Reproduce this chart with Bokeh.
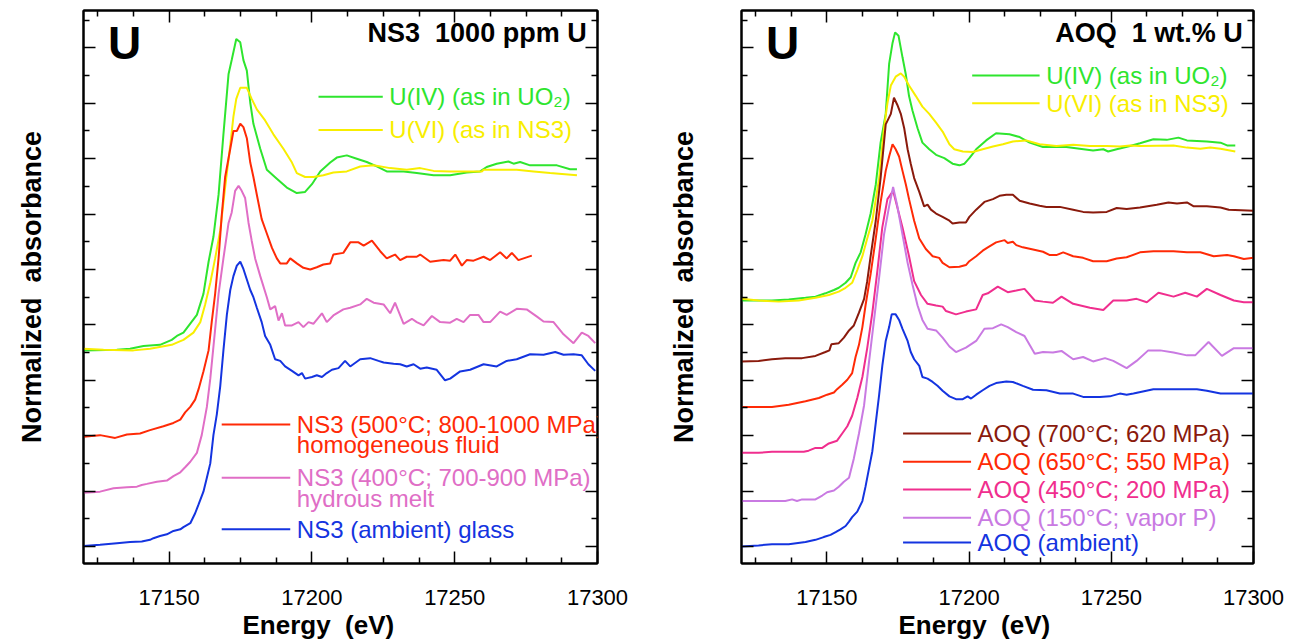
from bokeh.plotting import figure
from bokeh.models import Range1d, FixedTicker, LinearAxis, Label, Title
from bokeh.layouts import row
from bokeh.embed import file_html
from bokeh.resources import INLINE

FONT = "Liberation Sans"
NB = "\u00a0"

# ---------------- Data: left panel (NS3, 1000 ppm U) ----------------
ns3_uiv_e = [17120, 17131.7, 17136.3, 17141, 17146.8, 17150.9, 17152.7, 17155, 17159.7, 17162, 17163.8, 17165.5,
             17167.3, 17169, 17170.8, 17171.9, 17173.5, 17174.9, 17176, 17177.2, 17178.4, 17179.5, 17181.9, 17184.2,
             17187.7, 17191.2, 17194.7, 17197.6, 17200, 17202.9, 17206.4, 17208.7, 17212.2, 17215.7, 17219.2,
             17222.7, 17226.2, 17232.1, 17236.7, 17242.6, 17248.4, 17254.2, 17258.9, 17261.2, 17264.7, 17268.8,
             17270.6, 17272.9, 17276.4, 17285.8, 17290.4, 17292.8]
ns3_uiv_y = [3.54, 3.55, 3.57, 3.62, 3.64, 3.73, 3.80, 3.86, 4.18, 4.56, 5.14, 5.59, 6.35, 7.44, 8.53, 8.78, 9.16,
             9.10, 8.78, 8.59, 8.01, 7.63, 7.18, 6.80, 6.64, 6.48, 6.38, 6.40, 6.54, 6.77, 6.93, 7.02, 7.06, 7.00,
             6.94, 6.86, 6.77, 6.77, 6.74, 6.70, 6.70, 6.75, 6.77, 6.85, 6.91, 6.95, 6.91, 6.94, 6.88, 6.88, 6.81, 6.81]

ns3_uvi_e = [17120, 17127, 17137.5, 17143.3, 17150.9, 17152.7, 17155, 17158.5, 17160.9, 17162.6, 17164.4, 17166.1,
             17167.9, 17169.6, 17171.4, 17172.5, 17173.5, 17174.9, 17177.2, 17178.9, 17180.7, 17183.6, 17186.5,
             17190, 17193, 17194.7, 17197.6, 17200.5, 17204, 17207.5, 17212.2, 17216.9, 17221.6, 17227.4, 17233.2,
             17237.9, 17242.6, 17248.4, 17254.2, 17259.5, 17260.1, 17271.7, 17277.6, 17283.4, 17292.8]
ns3_uvi_y = [3.57, 3.55, 3.54, 3.57, 3.64, 3.68, 3.73, 3.86, 4.05, 4.37, 4.76, 5.20, 5.71, 6.48, 7.25, 7.76, 8.08,
             8.28, 8.28, 8.08, 7.89, 7.69, 7.44, 7.18, 6.93, 6.74, 6.67, 6.67, 6.70, 6.75, 6.77, 6.86, 6.88, 6.83,
             6.80, 6.83, 6.78, 6.77, 6.77, 6.77, 6.80, 6.80, 6.77, 6.74, 6.70]

ns3_500_e = [17120, 17125.8, 17131.1, 17135.2, 17139.8, 17143.3, 17148, 17151.5, 17153.9, 17155.6, 17157.4, 17159.1,
             17160.3, 17162, 17163.8, 17164.9, 17166.1, 17167.3, 17168.4, 17169.6, 17171.4, 17172.5, 17173.7,
             17174.9, 17176, 17177.2, 17178.4, 17179.5, 17180.7, 17182.4, 17184.2, 17186, 17187.7, 17188.9, 17191.2,
             17192.4, 17194.7, 17197, 17199.4, 17201.7, 17204, 17206.4, 17207.5, 17211, 17213.4, 17216.3, 17218.1,
             17221, 17223.9, 17226.2, 17229.1, 17230.9, 17233.2, 17236.7, 17237.9, 17241.4, 17246.1, 17248.4,
             17250.2, 17252.5, 17254.2, 17256.6, 17260.1, 17262.4, 17265.9, 17268.2, 17270, 17272.3, 17277]
ns3_500_y = [1.98, 2.01, 1.96, 2.02, 2.04, 2.10, 2.17, 2.23, 2.29, 2.42, 2.52, 2.65, 2.84, 3.16, 3.54, 4.05, 4.56,
             5.20, 5.97, 6.67, 7.18, 7.50, 7.50, 7.63, 7.57, 7.37, 6.93, 6.67, 6.35, 5.91, 5.65, 5.39, 5.20, 5.11,
             5.11, 5.20, 5.11, 5.03, 5.00, 5.04, 5.09, 5.11, 5.27, 5.30, 5.49, 5.49, 5.43, 5.52, 5.33, 5.20, 5.27,
             5.17, 5.23, 5.23, 5.27, 5.14, 5.17, 5.16, 5.27, 5.07, 5.17, 5.16, 5.23, 5.17, 5.31, 5.20, 5.30, 5.17, 5.25]

ns3_400_e = [17120, 17125.8, 17130.5, 17135.2, 17138.7, 17140.4, 17142.2, 17145.7, 17149.2, 17151.5, 17153.9,
             17155.6, 17157.4, 17159.7, 17161.4, 17163.2, 17164.4, 17166.1, 17167.3, 17169, 17170.8, 17171.9,
             17173.1, 17174.3, 17175.4, 17176.6, 17177.8, 17178.9, 17180.1, 17181.9, 17184.2, 17185.4, 17187.1,
             17188.3, 17189.5, 17190.6, 17193, 17195.3, 17197, 17198.8, 17200.5, 17203.5, 17205.2, 17207.5, 17211,
             17213.4, 17216.9, 17219.2, 17221.6, 17225.1, 17227.4, 17229.1, 17232.1, 17235, 17236.7, 17239.1, 17242,
             17244.9, 17248.4, 17250.7, 17253.1, 17255.4, 17258.3, 17260.1, 17262.4, 17265.9, 17268.2, 17271.7,
             17275.2, 17278.8, 17281.1, 17284.6, 17288.1, 17291.6, 17294.5, 17296.8, 17299.2]
ns3_400_y = [0.97, 0.99, 1.05, 1.07, 1.08, 1.11, 1.13, 1.17, 1.19, 1.27, 1.34, 1.43, 1.53, 1.69, 2.01, 2.52, 3.03,
             3.92, 4.56, 5.20, 5.84, 6.03, 6.42, 6.51, 6.42, 6.29, 5.84, 5.52, 5.20, 4.88, 4.50, 4.28, 4.34, 4.08,
             4.21, 3.99, 3.99, 4.05, 3.96, 4.05, 4.02, 4.21, 4.05, 4.17, 4.28, 4.31, 4.37, 4.47, 4.40, 4.37, 4.21,
             4.40, 4.02, 4.11, 4.05, 3.99, 4.16, 4.05, 4.04, 4.11, 4.05, 4.18, 4.18, 4.05, 4.05, 4.24, 4.18, 4.29,
             4.28, 4.15, 4.06, 4.05, 3.83, 3.67, 3.86, 3.80, 3.67]

ns3_amb_e = [17120, 17125.8, 17131.7, 17136.3, 17140.4, 17143.3, 17144.5, 17146.8, 17149.2, 17151.5, 17153.9,
             17155, 17157.4, 17159.1, 17160.3, 17162, 17163.2, 17164.4, 17165.5, 17166.7, 17167.9, 17169, 17170.2,
             17171.4, 17172.5, 17173.7, 17174.9, 17176, 17177.2, 17178.4, 17179.5, 17180.7, 17182.4, 17183.6,
             17185.4, 17187.1, 17188.9, 17190.6, 17193, 17195.3, 17196.5, 17197.6, 17200, 17201.7, 17203.5, 17205.2,
             17207, 17209.3, 17211.6, 17213.4, 17216.9, 17220.4, 17223.3, 17225.1, 17228.6, 17230.9, 17233.2,
             17235.6, 17237.9, 17240.2, 17243.7, 17246.6, 17248.4, 17251.9, 17255.4, 17260.1, 17264.7, 17268.2,
             17271.7, 17276.4, 17281.1, 17285.2, 17288.1, 17291.6, 17294.5, 17296.8, 17299.2]
ns3_amb_y = [0.01, 0.03, 0.06, 0.08, 0.09, 0.12, 0.15, 0.19, 0.22, 0.28, 0.31, 0.35, 0.42, 0.60, 0.76, 0.99, 1.24,
             1.50, 2.01, 2.39, 2.90, 3.54, 4.18, 4.63, 4.88, 5.07, 5.14, 5.01, 4.82, 4.63, 4.50, 4.31, 4.05, 3.80,
             3.64, 3.38, 3.35, 3.25, 3.17, 3.09, 3.13, 3.03, 3.06, 3.09, 3.06, 3.13, 3.19, 3.22, 3.35, 3.25, 3.38,
             3.40, 3.35, 3.32, 3.30, 3.29, 3.25, 3.29, 3.21, 3.23, 3.19, 3.00, 3.03, 3.16, 3.19, 3.29, 3.25, 3.35,
             3.38, 3.47, 3.46, 3.51, 3.46, 3.47, 3.45, 3.29, 3.17]

# ---------------- Data: right panel (AOQ, 1 wt.% U) ----------------
aoq_uiv_e = [17120, 17130.7, 17136.6, 17142.5, 17146, 17149.5, 17152.5, 17154.2, 17156.6, 17158.4, 17160.1, 17161.9,
             17163.6, 17165.4, 17167.2, 17168.9, 17170.7, 17171.9, 17173.1, 17174, 17175.2, 17176.6, 17177.8,
             17178.9, 17180.1, 17181.9, 17183.6, 17186, 17188.4, 17191.3, 17194.2, 17196.6, 17198.4, 17200.1,
             17202.5, 17206, 17209.5, 17214.2, 17217.8, 17221.3, 17226, 17230.7, 17234.2, 17238.9, 17243.6, 17247.2,
             17248.9, 17251.9, 17256.6, 17260.1, 17264.8, 17269.5, 17273.6, 17276.6, 17283.6, 17288.4, 17290.7,
             17293.6]
aoq_uiv_y = [4.44, 4.44, 4.46, 4.49, 4.51, 4.57, 4.63, 4.67, 4.76, 4.86, 5.12, 5.31, 5.63, 6.01, 6.53, 7.29, 7.81,
             8.71, 9.09, 9.28, 9.22, 8.83, 8.51, 8.13, 7.87, 7.55, 7.29, 7.17, 7.07, 7.01, 6.91, 6.88, 6.91, 7.01,
             7.17, 7.33, 7.46, 7.44, 7.39, 7.29, 7.21, 7.21, 7.21, 7.18, 7.15, 7.17, 7.13, 7.17, 7.23, 7.28, 7.35,
             7.34, 7.38, 7.33, 7.31, 7.29, 7.24, 7.24]

aoq_uvi_e = [17120, 17126, 17133.1, 17140.1, 17146, 17150.7, 17154.2, 17156.6, 17158.9, 17160.7, 17162.5, 17164.2,
             17166, 17168.4, 17170.1, 17171.3, 17172.5, 17174.2, 17176, 17177.2, 17178.9, 17181.3, 17183.6, 17186,
             17188.4, 17190.7, 17193.1, 17194.8, 17197.8, 17201.3, 17204.8, 17208.4, 17211.9, 17215.4, 17220.1,
             17224.8, 17230.7, 17236.6, 17242.5, 17248.4, 17253.1, 17256.6, 17260.1, 17271.9, 17276.6, 17281.3,
             17284.8, 17288.4, 17293.6]
aoq_uvi_y = [4.47, 4.44, 4.42, 4.44, 4.49, 4.54, 4.60, 4.67, 4.76, 4.99, 5.24, 5.56, 5.88, 6.65, 7.55, 8.00, 8.32,
             8.48, 8.54, 8.48, 8.32, 8.13, 7.94, 7.81, 7.65, 7.49, 7.26, 7.17, 7.13, 7.12, 7.17, 7.22, 7.26, 7.31,
             7.33, 7.26, 7.23, 7.25, 7.23, 7.23, 7.22, 7.24, 7.23, 7.24, 7.20, 7.18, 7.20, 7.18, 7.13]

aoq_700_e = [17120, 17126, 17130.7, 17135.4, 17141.3, 17146, 17149.5, 17150.9, 17151.6, 17154.2, 17156, 17157.8,
             17159.5, 17161.3, 17163.1, 17164.2, 17165.4, 17167.2, 17168.9, 17170.7, 17172.5, 17173.6, 17174.8,
             17176, 17177.2, 17178.4, 17179.5, 17180.7, 17182.5, 17184.2, 17185.4, 17186.6, 17188.4, 17190.7,
             17193.1, 17194.2, 17196.6, 17198.9, 17200.1, 17202.5, 17205.4, 17208.4, 17210.7, 17213.1, 17215.4,
             17217.8, 17221.3, 17224.8, 17227.2, 17231.9, 17236.6, 17240.1, 17243.6, 17248.4, 17251.9, 17255.4,
             17260.1, 17266, 17270.1, 17273.1, 17276.6, 17279, 17283.6, 17288.4, 17291.3, 17300]
aoq_700_y = [3.34, 3.35, 3.38, 3.40, 3.40, 3.44, 3.51, 3.54, 3.65, 3.67, 3.77, 3.90, 3.99, 4.22, 4.47, 4.79, 5.24,
             5.88, 6.65, 7.62, 7.81, 8.10, 7.97, 7.81, 7.55, 7.17, 6.91, 6.65, 6.40, 6.14, 6.17, 6.08, 6.01, 5.95,
             5.88, 5.83, 5.85, 5.85, 5.95, 6.08, 6.22, 6.27, 6.33, 6.35, 6.35, 6.24, 6.19, 6.15, 6.13, 6.13, 6.08,
             6.04, 6.03, 6.04, 6.11, 6.09, 6.12, 6.17, 6.21, 6.19, 6.21, 6.14, 6.14, 6.12, 6.08, 6.06]

aoq_650_e = [17120, 17130.7, 17136.6, 17142.5, 17147.2, 17150.1, 17152.5, 17153.6, 17155.4, 17157.2, 17158.9,
             17160.1, 17161.3, 17162.5, 17163.6, 17165.4, 17167.2, 17168.9, 17170.7, 17171.9, 17173.1, 17174.2,
             17175.4, 17176.6, 17177.8, 17178.9, 17180.7, 17182.5, 17184.8, 17187.2, 17189.5, 17190.7, 17193.1,
             17196.6, 17198.9, 17200.1, 17202.5, 17204.8, 17206.6, 17209.5, 17212.5, 17213.6, 17215.4, 17216.6,
             17218.9, 17222.5, 17226, 17228.4, 17230.7, 17233.1, 17236.6, 17240.1, 17243.6, 17248.4, 17251.9,
             17255.4, 17260.1, 17264.8, 17271.9, 17276.6, 17281.3, 17286, 17290.7, 17293.1, 17296.6, 17300]
aoq_650_y = [2.52, 2.52, 2.56, 2.62, 2.68, 2.74, 2.78, 2.84, 2.92, 3.01, 3.13, 3.42, 3.64, 3.96, 4.35, 4.92, 5.56,
             6.21, 6.78, 7.04, 7.26, 7.17, 7.04, 6.78, 6.53, 6.27, 5.88, 5.56, 5.37, 5.24, 5.21, 5.12, 5.04, 5.05,
             5.08, 5.15, 5.24, 5.34, 5.40, 5.49, 5.53, 5.48, 5.50, 5.44, 5.40, 5.36, 5.32, 5.26, 5.26, 5.31, 5.24,
             5.21, 5.15, 5.15, 5.20, 5.22, 5.31, 5.33, 5.33, 5.31, 5.31, 5.24, 5.26, 5.24, 5.19, 5.21]

aoq_450_e = [17120, 17126, 17130.7, 17136.6, 17141.9, 17143.6, 17146, 17148.4, 17150.7, 17153.6, 17155.4, 17157.2,
             17158.9, 17160.7, 17162.5, 17164.2, 17166, 17167.8, 17169.5, 17171.3, 17173.3, 17176.6, 17178.9,
             17180.7, 17183.1, 17185.4, 17188.4, 17190.7, 17191.9, 17195.4, 17198.9, 17202.5, 17204.8, 17206.6,
             17210.1, 17213.6, 17216.6, 17219.5, 17223.1, 17226, 17229.5, 17232.5, 17236.6, 17242.5, 17247.2,
             17250.7, 17255.4, 17258.9, 17262.5, 17266.6, 17271.9, 17276, 17280.1, 17283.6, 17288.4, 17293.1,
             17296.6, 17300]
aoq_450_y = [1.69, 1.69, 1.71, 1.71, 1.71, 1.73, 1.78, 1.78, 1.86, 1.91, 2.04, 2.17, 2.36, 2.68, 3.06, 3.58, 4.22,
             4.99, 5.76, 6.27, 6.42, 5.76, 5.24, 4.79, 4.54, 4.38, 4.35, 4.33, 4.25, 4.19, 4.24, 4.28, 4.54, 4.57,
             4.69, 4.59, 4.62, 4.65, 4.44, 4.42, 4.40, 4.51, 4.38, 4.31, 4.27, 4.44, 4.44, 4.47, 4.41, 4.58, 4.51,
             4.58, 4.51, 4.65, 4.54, 4.44, 4.41, 4.41]

aoq_150_e = [17120, 17130.7, 17135.4, 17137.8, 17139.5, 17141.3, 17146, 17148.4, 17150.1, 17152.5, 17154.2, 17156,
             17157.8, 17159.5, 17161.3, 17163.1, 17164.8, 17166.6, 17168.4, 17170.1, 17171.9, 17173.3, 17174.8,
             17176.6, 17178.4, 17180.1, 17181.9, 17183.6, 17185.4, 17188.4, 17190.7, 17193.1, 17195.4, 17198.9,
             17202.5, 17205.4, 17208.4, 17211.3, 17213.6, 17216.6, 17219.5, 17223.1, 17226, 17229.5, 17232.5,
             17236.6, 17240.1, 17243.6, 17247.8, 17250.7, 17255.4, 17258.9, 17263, 17267.2, 17271.9, 17276.6,
             17279.5, 17284.2, 17288.9, 17293.1, 17300]
aoq_150_y = [0.82, 0.82, 0.82, 0.85, 0.82, 0.85, 0.85, 0.92, 0.98, 1.01, 1.08, 1.17, 1.24, 1.59, 2.04, 2.55, 3.32,
             4.09, 4.86, 5.63, 6.14, 6.49, 6.14, 5.63, 5.12, 4.73, 4.35, 4.09, 3.93, 3.90, 3.77, 3.61, 3.51, 3.59,
             3.71, 3.93, 3.94, 4.01, 3.96, 3.87, 3.80, 3.48, 3.51, 3.50, 3.53, 3.38, 3.42, 3.34, 3.40, 3.35, 3.22,
             3.35, 3.54, 3.54, 3.50, 3.45, 3.45, 3.69, 3.44, 3.58, 3.58]

aoq_amb_e = [17120, 17126, 17130.7, 17136.6, 17142.5, 17146, 17148.9, 17151.3, 17153.1, 17154.8, 17156.6, 17157.8,
             17158.9, 17160.7, 17162.5, 17163.6, 17164.8, 17166, 17167.2, 17168.4, 17169.5, 17170.7, 17171.9,
             17172.8, 17174.2, 17175.4, 17176.6, 17178.4, 17179.5, 17180.7, 17182.5, 17183.6, 17185.4, 17187.2,
             17188.9, 17190.7, 17193.1, 17195.4, 17197.8, 17199.5, 17200.7, 17202.5, 17204.8, 17207.2, 17209.5,
             17213.1, 17215.4, 17218.9, 17222.5, 17227.2, 17231.9, 17236.6, 17240.1, 17246, 17249.5, 17253, 17255.4,
             17257.8, 17264.8, 17271.9, 17280.1, 17283.6, 17288.4, 17300]
aoq_amb_y = [0.00, 0.02, 0.04, 0.04, 0.08, 0.12, 0.17, 0.21, 0.26, 0.31, 0.37, 0.45, 0.53, 0.63, 0.82, 1.08, 1.40,
             1.72, 2.23, 2.74, 3.26, 3.71, 3.96, 4.19, 4.19, 4.09, 3.93, 3.71, 3.51, 3.38, 3.26, 3.06, 3.03, 2.97,
             2.90, 2.81, 2.71, 2.66, 2.66, 2.71, 2.67, 2.74, 2.82, 2.90, 2.95, 2.98, 2.97, 2.90, 2.83, 2.82, 2.76,
             2.76, 2.70, 2.70, 2.71, 2.76, 2.74, 2.76, 2.84, 2.84, 2.84, 2.81, 2.76, 2.76]

# ---------------- Texts, ticks, colours ----------------
x_major_ticks = [17150, 17200, 17250, 17300]
x_minor_ticks = [17125, 17137.5, 17162.5, 17175, 17187.5, 17212.5, 17225, 17237.5, 17262.5, 17275, 17287.5]
y_major_ticks = [0, 1, 2, 3, 4, 5, 6, 7, 8, 9]
y_minor_ticks = [0.5, 1.5, 2.5, 3.5, 4.5, 5.5, 6.5, 7.5, 8.5, 9.5]

X_LABEL = "Energy" + NB + NB + "(eV)"
Y_LABEL = "Normalized" + NB + NB + "absorbance"
LEFT_TITLE = "NS3" + NB + NB + "1000 ppm U"
RIGHT_TITLE = "AOQ" + NB + NB + "1 wt.% U"

C_GREEN = "#2ee52e"
C_YELLOW = "#f8ee00"
C_RED = "#ff2a06"
C_ORCHID = "#e06ec6"
C_BLUE = "#1434e0"
C_BROWN = "#8a1a0c"
C_DEEPPINK = "#f02e8e"
C_VIOLET = "#c97ae2"

left_series = [
    (ns3_uiv_e, ns3_uiv_y, C_GREEN),
    (ns3_uvi_e, ns3_uvi_y, C_YELLOW),
    (ns3_500_e, ns3_500_y, C_RED),
    (ns3_400_e, ns3_400_y, C_ORCHID),
    (ns3_amb_e, ns3_amb_y, C_BLUE),
]
right_series = [
    (aoq_uiv_e, aoq_uiv_y, C_GREEN),
    (aoq_uvi_e, aoq_uvi_y, C_YELLOW),
    (aoq_700_e, aoq_700_y, C_BROWN),
    (aoq_650_e, aoq_650_y, C_RED),
    (aoq_450_e, aoq_450_y, C_DEEPPINK),
    (aoq_150_e, aoq_150_y, C_VIOLET),
    (aoq_amb_e, aoq_amb_y, C_BLUE),
]

UO2_LABEL = "U(IV) (as in UO\u2082)"
UVI_LABEL = "U(VI) (as in NS3)"


def style(ax):
    ax.axis_line_width = 2
    ax.axis_line_color = "black"
    ax.major_tick_in = 12
    ax.major_tick_out = 0
    ax.minor_tick_in = 6
    ax.minor_tick_out = 0
    ax.major_tick_line_width = 1.5
    ax.minor_tick_line_width = 1.5
    ax.major_tick_line_color = "black"
    ax.minor_tick_line_color = "black"


def hide_labels(ax):
    ax.major_label_text_color = None
    ax.major_label_text_font_size = "1px"
    ax.major_label_standoff = 0


def make_panel(series, title, frame_w, border_left, border_right, ylab_standoff, xlab_offset,
               legends, sublines):
    p = figure(frame_width=frame_w, frame_height=553,
               x_range=Range1d(17120, 17300), y_range=Range1d(-0.307, 9.675),
               output_backend="svg", toolbar_location=None,
               min_border_left=border_left, min_border_right=border_right,
               min_border_top=10, min_border_bottom=76)
    p.background_fill_color = "white"
    p.border_fill_color = "white"
    p.outline_line_color = "black"
    p.outline_line_width = 2
    p.xgrid.visible = False
    p.ygrid.visible = False

    xt = FixedTicker(ticks=x_major_ticks, minor_ticks=x_minor_ticks)
    yt = FixedTicker(ticks=y_major_ticks, minor_ticks=y_minor_ticks)

    xa = p.xaxis[0]
    xa.ticker = xt
    style(xa)
    xa.major_label_text_font = FONT
    xa.major_label_text_font_size = "22px"
    xa.major_label_text_color = "black"
    xa.major_label_standoff = 26

    xtitle = Title(text=X_LABEL, align="left", offset=xlab_offset, standoff=0,
                   text_font=FONT, text_font_size="26px", text_font_style="bold",
                   text_color="black")
    p.add_layout(xtitle, "below")

    ya = p.yaxis[0]
    ya.ticker = yt
    style(ya)
    hide_labels(ya)
    ya.axis_label = Y_LABEL
    ya.axis_label_text_font = FONT
    ya.axis_label_text_font_style = "bold"
    ya.axis_label_text_font_size = "27px"
    ya.axis_label_text_color = "black"
    ya.axis_label_standoff = ylab_standoff

    top = LinearAxis(ticker=xt)
    style(top)
    hide_labels(top)
    p.add_layout(top, "above")
    right = LinearAxis(ticker=yt)
    style(right)
    hide_labels(right)
    p.add_layout(right, "right")

    for e, y, c in series:
        p.line(e, y, line_color=c, line_width=2)

    for x0, x1, yy, c, txt in legends:
        p.line([x0, x1], [yy, yy], line_color=c, line_width=2)
        p.add_layout(Label(x=x1 + 2.3, y=yy, text=txt, text_color=c, text_font=FONT,
                           text_font_size="24px", text_baseline="middle", text_align="left"))
    for xx, yy, c, txt in sublines:
        p.add_layout(Label(x=xx, y=yy, text=txt, text_color=c, text_font=FONT,
                           text_font_size="24px", text_baseline="middle", text_align="left"))

    p.add_layout(Label(x=17128.6, y=9.08, text="U", text_color="black", text_font=FONT,
                       text_font_size="46px", text_font_style="bold",
                       text_baseline="middle", text_align="left"))
    p.add_layout(Label(x=17296.2, y=9.26, text=title, text_color="black", text_font=FONT,
                       text_font_size="27px", text_font_style="bold",
                       text_baseline="middle", text_align="right"))
    return p


left_legends = [
    (17202.3, 17224.8, 8.12, C_GREEN, UO2_LABEL),
    (17202.3, 17224.8, 7.52, C_YELLOW, UVI_LABEL),
    (17168.4, 17192.4, 2.20, C_RED, "NS3 (500\u00b0C; 800-1000 MPa)"),
    (17168.4, 17192.4, 1.24, C_ORCHID, "NS3 (400\u00b0C; 700-900 MPa)"),
    (17168.4, 17192.4, 0.31, C_BLUE, "NS3 (ambient) glass"),
]
left_sub = [
    (17194.7, 1.84, C_RED, "homogeneous fluid"),
    (17194.7, 0.87, C_ORCHID, "hydrous melt"),
]
right_legends = [
    (17201.1, 17224.8, 8.50, C_GREEN, UO2_LABEL),
    (17201.1, 17224.8, 8.00, C_YELLOW, UVI_LABEL),
    (17176.8, 17200.7, 2.04, C_BROWN, "AOQ (700\u00b0C; 620 MPa)"),
    (17176.8, 17200.7, 1.53, C_RED, "AOQ (650\u00b0C; 550 MPa)"),
    (17176.8, 17200.7, 1.03, C_DEEPPINK, "AOQ (450\u00b0C; 200 MPa)"),
    (17176.8, 17200.7, 0.52, C_VIOLET, "AOQ (150\u00b0C; vapor P)"),
    (17176.8, 17200.7, 0.07, C_BLUE, "AOQ (ambient)"),
]

p1 = make_panel(left_series, LEFT_TITLE, 514, 83, 60, 37, 159, left_legends, left_sub)
p2 = make_panel(right_series, RIGHT_TITLE, 512, 84, 40, 43, 157, right_legends, [])

layout = row(p1, p2)
open("out.html", "w").write(file_html(layout, INLINE))
